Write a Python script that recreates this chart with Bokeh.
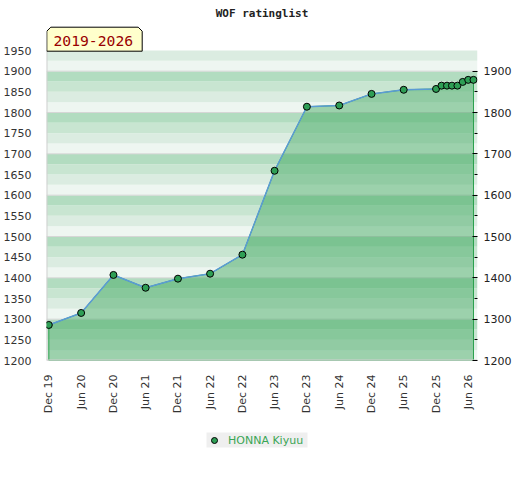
import pandas as pd
from bokeh.plotting import figure
from bokeh.layouts import column
from bokeh.models import (Range1d, LinearAxis, FixedTicker, Legend, LegendItem, Label)
from bokeh.embed import file_html
from bokeh.resources import INLINE

# ---- data ----
dates = ["2019-12-01", "2020-06-01", "2020-12-01", "2021-06-01", "2021-12-01",
         "2022-06-01", "2022-12-01", "2023-06-01", "2023-12-01", "2024-06-01",
         "2024-12-01", "2025-06-01", "2025-12-01", "2026-01-01", "2026-02-01",
         "2026-03-01", "2026-04-01", "2026-05-01", "2026-06-01", "2026-07-01"]
ratings = [1286, 1315, 1407, 1376, 1398, 1410, 1456, 1659, 1814, 1817,
           1845, 1855, 1857, 1865, 1865, 1865, 1865, 1874, 1879, 1879]
player = "HONNA Kiyuu"
title_text = "WOF ratinglist"
period_text = "2019-2026"
tick_dates = ["2019-12-01", "2020-06-01", "2020-12-01", "2021-06-01", "2021-12-01",
              "2022-06-01", "2022-12-01", "2023-06-01", "2023-12-01", "2024-06-01",
              "2024-12-01", "2025-06-01", "2025-12-01", "2026-06-01"]
tick_labels = ["Dec 19", "Jun 20", "Dec 20", "Jun 21", "Dec 21", "Jun 22", "Dec 22",
               "Jun 23", "Dec 23", "Jun 24", "Dec 24", "Jun 25", "Dec 25", "Jun 26"]
left_ticks = list(range(1200, 2000, 50))
right_ticks = list(range(1200, 2000, 100))
right_minor = list(range(1250, 1950, 100))

DAY = 86400000
xs = [int(v) for v in (pd.to_datetime(dates).astype("int64") // 10**6)]
txs = [int(v) for v in (pd.to_datetime(tick_dates).astype("int64") // 10**6)]

# ---- geometry (page px) ----
FL, FR = 45.0, 476.0          # frame left / right on the page
FT, FB = 8.0, 360.0           # frame top / bottom on the page
PX_DAY = 0.17666
PX_UNIT = 0.413333
x_start = xs[0] - (47.3 - FL) / PX_DAY * DAY
x_end = x_start + (FR - FL) / PX_DAY * DAY
y_start = 1200
y_end = 1200 + (FB - FT) / PX_UNIT

def px_x(px):
    return x_start + (px - FL) / PX_DAY * DAY

def px_y(py):
    return 1200 + (FB - py) / PX_UNIT

fig = figure(frame_width=431, frame_height=352, output_backend="svg", toolbar_location=None,
             x_range=Range1d(x_start, x_end), y_range=Range1d(y_start, y_end),
             min_border_left=37, min_border_right=36, min_border_top=8,
             min_border_bottom=52)
fig.background_fill_color = "white"
fig.border_fill_color = "white"
fig.outline_line_color = None
fig.xgrid.visible = False
fig.ygrid.visible = False

# stripes
band_cols = ["#eef6f1", "#dbece1", "#c8e5d1", "#b2dcc0"]
qb, qt, qc = [], [], []
for base in range(1200, 1950, 25):
    qb.append(base)
    qt.append(base + 25)
    qc.append(band_cols[((base - 1200) // 25) % 4])
fig.quad(left=x_start, right=x_end, bottom=qb, top=qt, fill_color=qc, line_color=None)
fig.segment(x0=x_start, x1=x_end, y0=right_ticks, y1=right_ticks, line_color="#d6d6d6", line_width=1)

# area
ax = [xs[0]] + xs + [xs[-1]]
ay = [1200] + ratings + [1200]
fig.patch(ax, ay, fill_color="#38a458", fill_alpha=0.45, line_color="#2aa04c", line_width=1)

# frame lines
fig.segment(x0=[x_start, x_start], x1=[x_start, x_end], y0=[1200, 1200], y1=[1950, 1200],
            line_color="#d0d0d0", line_width=2)

# line and points
fig.line(xs, ratings, line_color="#5b9bd5", line_width=1.5)
pts = fig.scatter(xs, ratings, size=7, fill_color="#2e9e55", line_color="black", line_width=1)

# period box
bx0, bx1, by0, by1, c = 45.3, 140.7, 26.7, 50.7, 4
fig.patch([px_x(bx0), px_x(bx0), px_x(bx0 + c), px_x(bx1 - c), px_x(bx1), px_x(bx1)],
          [px_y(by1), px_y(by0 + c), px_y(by0), px_y(by0), px_y(by0 + c), px_y(by1)],
          fill_color="#ffffcc", line_color="black", line_width=1)
fig.add_layout(Label(x=px_x(52), y=px_y(40.5), text=period_text, text_font="DejaVu Sans Mono",
                     text_font_size="14.7px", text_color="#990000", text_baseline="middle"))

# title
fig.add_layout(Label(x=px_x(260.5), y=px_y(13), text=title_text, text_font="DejaVu Sans Mono",
                     text_font_style="bold", text_font_size="11px", text_color="#222222",
                     text_align="center", text_baseline="middle"))

# axes
fig.yaxis.ticker = FixedTicker(ticks=left_ticks)
fig.yaxis.axis_line_color = None
fig.yaxis.major_tick_line_color = None
fig.yaxis.minor_tick_line_color = None
fig.yaxis.major_label_standoff = 9
fig.yaxis.major_label_text_font = "DejaVu Sans"
fig.yaxis.major_label_text_font_size = "11px"
fig.yaxis.major_label_text_color = "#333333"

ra = LinearAxis(ticker=FixedTicker(ticks=right_ticks, minor_ticks=right_minor))
ra.axis_line_color = None
ra.major_tick_in = 5
ra.major_tick_out = 0
ra.minor_tick_in = 3
ra.minor_tick_out = 0
ra.major_tick_line_color = "black"
ra.minor_tick_line_color = "black"
ra.major_label_standoff = 6
ra.major_label_text_font = "DejaVu Sans"
ra.major_label_text_font_size = "11px"
ra.major_label_text_color = "#222222"
fig.add_layout(ra, "right")

fig.xaxis.ticker = FixedTicker(ticks=txs)
fig.xaxis.major_label_overrides = {t: l for t, l in zip(txs, tick_labels)}
fig.xaxis.major_label_orientation = 1.5708
fig.xaxis.axis_line_color = None
fig.xaxis.major_tick_line_color = None
fig.xaxis.minor_tick_line_color = None
fig.xaxis.major_label_standoff = 8
fig.xaxis.major_label_text_font = "DejaVu Sans"
fig.xaxis.major_label_text_font_size = "11px"
fig.xaxis.major_label_text_color = "#333333"

# legend strip (separate small figure below the chart)
leg = figure(width=504, height=48, output_backend="svg", toolbar_location=None,
             x_range=Range1d(0, 1), y_range=Range1d(0, 1),
             min_border_left=0, min_border_right=0, min_border_top=0, min_border_bottom=0)
leg.axis.visible = False
leg.grid.visible = False
leg.outline_line_color = None
leg.background_fill_color = "white"
leg.border_fill_color = "white"
# key renderer: one point placed outside the visible range, only its legend glyph shows
key = leg.scatter(x=[5], y=[5], size=7, fill_color="#2e9e55", line_color="black", line_width=1)
legend = Legend(items=[LegendItem(label=player, renderers=[key])], location="center",
                orientation="horizontal")
legend.background_fill_color = "#efefef"
legend.background_fill_alpha = 1
legend.border_line_color = None
legend.label_text_color = "#3aa655"
legend.label_text_font = "DejaVu Sans"
legend.label_text_font_size = "11px"
legend.padding = 3
legend.glyph_width = 15
legend.glyph_height = 15
legend.label_height = 11
legend.label_width = 79
legend.label_standoff = 7
legend.margin = 0
leg.add_layout(legend)

p = column(fig, leg, spacing=0)

open("out.html", "w").write(file_html(p, INLINE))
